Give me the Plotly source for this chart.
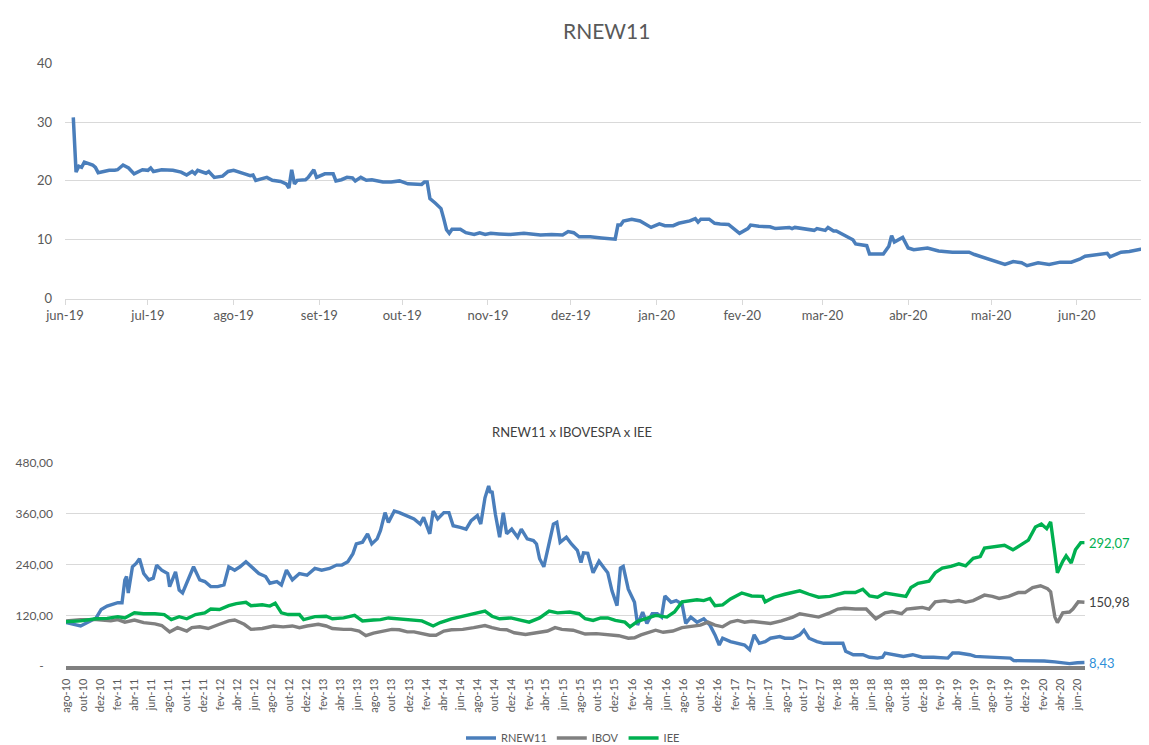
import plotly.graph_objects as go

# ---------------- Top chart: RNEW11 price ----------------
top_dates = [
    "2019-06-04", "2019-06-05", "2019-06-06", "2019-06-07", "2019-06-08", "2019-06-11", "2019-06-12",
    "2019-06-13", "2019-06-15", "2019-06-17", "2019-06-19", "2019-06-20", "2019-06-22", "2019-06-24",
    "2019-06-26", "2019-06-29", "2019-07-01", "2019-07-02", "2019-07-03", "2019-07-06", "2019-07-10",
    "2019-07-13", "2019-07-15", "2019-07-17", "2019-07-18", "2019-07-19", "2019-07-22", "2019-07-23",
    "2019-07-25", "2019-07-28", "2019-07-30", "2019-08-01", "2019-08-05", "2019-08-07", "2019-08-08",
    "2019-08-09", "2019-08-13", "2019-08-15", "2019-08-18", "2019-08-20", "2019-08-21", "2019-08-22",
    "2019-08-23", "2019-08-24", "2019-08-27", "2019-08-28", "2019-08-30", "2019-08-31", "2019-09-03",
    "2019-09-06", "2019-09-07", "2019-09-09", "2019-09-11", "2019-09-13", "2019-09-14", "2019-09-16",
    "2019-09-18", "2019-09-20", "2019-09-24", "2019-09-27", "2019-09-30", "2019-10-03", "2019-10-08",
    "2019-10-09", "2019-10-10", "2019-10-11", "2019-10-13", "2019-10-15", "2019-10-16", "2019-10-17",
    "2019-10-18", "2019-10-19", "2019-10-22", "2019-10-24", "2019-10-27", "2019-10-29", "2019-10-31",
    "2019-11-02", "2019-11-05", "2019-11-09", "2019-11-14", "2019-11-20", "2019-11-24", "2019-11-28",
    "2019-11-30", "2019-12-02", "2019-12-04", "2019-12-08", "2019-12-12", "2019-12-17", "2019-12-18",
    "2019-12-19", "2019-12-20", "2019-12-23", "2019-12-26", "2019-12-30", "2020-01-02", "2020-01-04",
    "2020-01-07", "2020-01-09", "2020-01-13", "2020-01-15", "2020-01-16", "2020-01-17", "2020-01-20",
    "2020-01-22", "2020-01-24", "2020-01-27", "2020-01-31", "2020-02-03", "2020-02-04", "2020-02-07",
    "2020-02-11", "2020-02-13", "2020-02-18", "2020-02-19", "2020-02-20", "2020-02-27", "2020-02-28",
    "2020-03-02", "2020-03-03", "2020-03-05", "2020-03-06", "2020-03-10", "2020-03-12", "2020-03-13",
    "2020-03-17", "2020-03-18", "2020-03-23", "2020-03-25", "2020-03-26", "2020-03-27", "2020-03-30",
    "2020-04-01", "2020-04-03", "2020-04-08", "2020-04-12", "2020-04-17", "2020-04-23", "2020-04-25",
    "2020-04-28", "2020-05-01", "2020-05-06", "2020-05-09", "2020-05-12", "2020-05-14", "2020-05-18",
    "2020-05-22", "2020-05-26", "2020-05-30", "2020-06-02", "2020-06-04", "2020-06-08", "2020-06-12",
    "2020-06-13", "2020-06-17", "2020-06-20", "2020-06-24", "2020-06-26", "2020-06-27", "2020-06-29",
]
top_price = [
    30.8, 21.5, 22.5, 22.3, 23.2, 22.7, 22.3,
    21.4, 21.6, 21.8, 21.8, 21.9, 22.7, 22.2,
    21.2, 21.9, 21.8, 22.2, 21.6, 21.9, 21.8,
    21.5, 21.0, 21.6, 21.2, 21.8, 21.3, 21.6,
    20.6, 20.8, 21.6, 21.8, 21.2, 20.9, 21.0,
    20.1, 20.6, 20.1, 19.9, 19.5, 18.8, 21.9,
    19.5, 20.1, 20.2, 20.6, 21.9, 20.6, 21.2,
    21.2, 20.0, 20.2, 20.6, 20.5, 20.0, 20.6,
    20.1, 20.2, 19.8, 19.8, 20.0, 19.5, 19.4,
    19.8, 19.8, 17.0, 16.2, 15.3, 13.6, 11.7,
    11.1, 11.8, 11.8, 11.2, 10.9, 11.2, 10.9,
    11.1, 11.0, 10.9, 11.1, 10.8, 10.9, 10.8,
    11.4, 11.2, 10.5, 10.5, 10.3, 10.1, 12.5,
    12.5, 13.2, 13.5, 13.2, 12.1, 12.7, 12.4,
    12.4, 12.8, 13.2, 13.6, 13.0, 13.5, 13.5,
    12.8, 12.7, 12.6, 11.1, 11.9, 12.5, 12.3,
    12.2, 11.9, 12.1, 11.9, 12.1, 11.6, 11.9,
    11.6, 12.1, 11.5, 11.5, 10.4, 10.0, 9.3,
    9.0, 7.6, 7.6, 8.9, 10.7, 9.6, 10.4,
    8.6, 8.3, 8.6, 8.1, 7.9, 7.9, 7.5,
    7.0, 6.5, 5.8, 6.3, 6.1, 5.6, 6.1,
    5.8, 6.2, 6.2, 6.7, 7.2, 7.5, 7.7,
    7.1, 7.9, 8.0, 8.4, 8.3, 10.4, 9.8,
]
top_tick_dates = ["2019-06-01", "2019-07-01", "2019-08-01", "2019-09-01", "2019-10-01", "2019-11-01",
                  "2019-12-01", "2020-01-01", "2020-02-01", "2020-03-01", "2020-04-01", "2020-05-01",
                  "2020-06-01"]
top_tick_labels = ["jun-19", "jul-19", "ago-19", "set-19", "out-19", "nov-19", "dez-19",
                   "jan-20", "fev-20", "mar-20", "abr-20", "mai-20", "jun-20"]

# ---------------- Bottom chart: RNEW11 x IBOVESPA x IEE ----------------
rnew_dates = [
    "2010-08-01", "2010-09-22", "2010-11-16", "2010-12-04", "2010-12-25", "2011-02-01", "2011-02-16",
    "2011-02-26", "2011-03-04", "2011-03-10", "2011-03-25", "2011-04-07", "2011-04-19", "2011-05-04",
    "2011-05-22", "2011-06-07", "2011-06-19", "2011-07-07", "2011-07-28", "2011-08-04", "2011-08-25",
    "2011-09-07", "2011-09-19", "2011-10-10", "2011-10-28", "2011-11-19", "2011-12-07", "2011-12-28",
    "2012-01-22", "2012-02-13", "2012-03-01", "2012-03-22", "2012-04-10", "2012-05-01", "2012-05-19",
    "2012-06-16", "2012-07-10", "2012-07-25", "2012-08-19", "2012-09-04", "2012-09-22", "2012-10-13",
    "2012-11-07", "2012-12-04", "2013-01-01", "2013-01-25", "2013-02-22", "2013-03-19", "2013-04-07",
    "2013-04-28", "2013-05-16", "2013-05-28", "2013-06-19", "2013-07-07", "2013-07-22", "2013-08-10",
    "2013-08-22", "2013-09-07", "2013-09-19", "2013-10-10", "2013-10-28", "2013-11-25", "2013-12-19",
    "2014-01-10", "2014-01-22", "2014-02-13", "2014-02-25", "2014-03-13", "2014-04-04", "2014-04-22",
    "2014-05-07", "2014-06-01", "2014-06-22", "2014-07-10", "2014-08-01", "2014-08-13", "2014-08-28",
    "2014-09-10", "2014-09-16", "2014-09-22", "2014-10-04", "2014-10-19", "2014-11-01", "2014-11-13",
    "2014-12-01", "2014-12-22", "2015-01-04", "2015-01-25", "2015-02-16", "2015-02-27", "2015-03-10",
    "2015-03-25", "2015-04-13", "2015-04-28", "2015-05-10", "2015-05-22", "2015-06-13", "2015-07-01",
    "2015-07-22", "2015-08-04", "2015-08-13", "2015-08-28", "2015-09-16", "2015-10-07", "2015-10-25",
    "2015-11-07", "2015-11-22", "2015-12-10", "2015-12-22", "2016-01-01", "2016-01-19", "2016-02-10",
    "2016-02-21", "2016-03-10", "2016-03-25", "2016-04-13", "2016-05-01", "2016-05-16", "2016-05-28",
    "2016-06-19", "2016-07-07", "2016-07-28", "2016-08-10", "2016-08-28", "2016-09-19", "2016-10-13",
    "2016-11-04", "2016-11-22", "2016-12-07", "2016-12-19", "2017-01-16", "2017-02-10", "2017-03-07",
    "2017-03-25", "2017-04-10", "2017-04-28", "2017-05-19", "2017-06-07", "2017-07-10", "2017-07-28",
    "2017-08-25", "2017-09-19", "2017-10-04", "2017-10-22", "2017-11-19", "2017-12-13", "2018-01-16",
    "2018-02-19", "2018-03-01", "2018-03-28", "2018-05-01", "2018-05-25", "2018-06-22", "2018-07-10",
    "2018-07-19", "2018-08-28", "2018-09-22", "2018-10-25", "2018-11-28", "2019-01-07", "2019-02-27",
    "2019-03-16", "2019-04-07", "2019-05-16", "2019-06-04", "2019-07-07", "2019-08-28", "2019-10-07",
    "2019-10-19", "2019-12-13", "2020-02-04", "2020-03-13", "2020-05-04", "2020-06-01", "2020-06-26",
]
rnew_values = [
    103, 95, 114, 134, 142, 150, 150,
    204, 212, 173, 235, 243, 254, 219,
    204, 208, 239, 227, 219, 188, 223,
    180, 173, 208, 235, 204, 200, 188,
    188, 192, 235, 227, 235, 247, 235,
    219, 212, 196, 200, 192, 227, 204,
    219, 215, 231, 227, 231, 239, 239,
    247, 266, 289, 293, 313, 289, 301,
    321, 363, 340, 367, 363, 356, 348,
    336, 352, 313, 367, 348, 363, 363,
    332, 328, 324, 344, 356, 336, 398,
    426, 410, 414, 359, 305, 363, 313,
    324, 305, 324, 301, 297, 289, 254,
    235, 289, 336, 340, 293, 305, 289,
    274, 245, 268, 267, 221, 248, 232,
    221, 178, 143, 232, 236, 182, 151,
    97, 128, 101, 124, 124, 116, 166,
    151, 155, 147, 101, 116, 104, 112,
    97, 74, 50, 66, 58, 54, 50,
    39, 74, 54, 58, 66, 70, 66,
    66, 74, 85, 66, 58, 54, 54,
    54, 35, 27, 27, 21, 19, 21,
    31, 27, 23, 27, 21, 21, 19,
    31, 31, 27, 23, 22, 21, 19,
    13, 13, 12, 10, 6, 8, 8.43,
]

ibov_dates = [
    "2010-08-01", "2010-09-22", "2010-11-16", "2011-01-07", "2011-02-01", "2011-02-26", "2011-04-01",
    "2011-05-04", "2011-06-13", "2011-07-07", "2011-08-04", "2011-09-01", "2011-10-04", "2011-10-22",
    "2011-11-19", "2011-12-19", "2012-01-28", "2012-03-01", "2012-03-22", "2012-04-25", "2012-05-19",
    "2012-06-28", "2012-08-07", "2012-09-10", "2012-10-13", "2012-11-07", "2012-12-04", "2013-01-13",
    "2013-02-10", "2013-03-04", "2013-04-13", "2013-05-10", "2013-06-07", "2013-07-01", "2013-07-28",
    "2013-08-22", "2013-10-01", "2013-10-28", "2013-11-25", "2013-12-19", "2014-01-16", "2014-02-13",
    "2014-03-07", "2014-04-04", "2014-05-01", "2014-06-10", "2014-07-19", "2014-08-28", "2014-09-22",
    "2014-10-19", "2014-11-13", "2014-12-10", "2015-01-19", "2015-02-27", "2015-04-07", "2015-05-04",
    "2015-05-28", "2015-07-07", "2015-08-19", "2015-09-28", "2015-11-07", "2015-12-16", "2016-01-19",
    "2016-02-10", "2016-03-04", "2016-04-01", "2016-04-25", "2016-05-22", "2016-06-25", "2016-07-28",
    "2016-08-22", "2016-10-01", "2016-10-28", "2016-11-22", "2016-12-19", "2017-01-16", "2017-02-10",
    "2017-03-07", "2017-04-01", "2017-05-10", "2017-06-07", "2017-07-16", "2017-08-25", "2017-09-19",
    "2017-10-16", "2017-11-25", "2018-01-04", "2018-02-01", "2018-02-25", "2018-04-04", "2018-05-13",
    "2018-06-16", "2018-07-19", "2018-08-13", "2018-09-16", "2018-10-04", "2018-11-01", "2018-11-28",
    "2018-12-22", "2019-01-13", "2019-02-16", "2019-03-10", "2019-04-07", "2019-05-01", "2019-05-28",
    "2019-07-07", "2019-08-04", "2019-08-28", "2019-10-01", "2019-11-04", "2019-11-28", "2019-12-25",
    "2020-01-22", "2020-02-16", "2020-02-27", "2020-03-13", "2020-03-22", "2020-04-10", "2020-05-04",
    "2020-05-16", "2020-06-04", "2020-06-26",
]
ibov_values = [
    107, 110, 110, 107, 110, 104, 109,
    103, 100, 96, 81, 91, 83, 91,
    93, 89, 99, 107, 109, 99, 87,
    89, 95, 93, 95, 91, 95, 99,
    95, 89, 87, 87, 83, 72, 78,
    81, 87, 86, 81, 81, 78, 73,
    73, 83, 86, 87, 91, 96, 91,
    87, 86, 79, 75, 79, 83, 91,
    87, 85, 76, 77, 75, 72, 66,
    67, 74, 80, 85, 80, 83, 91,
    93, 97, 104, 97, 93, 104, 108,
    104, 106, 104, 101, 107, 116, 124,
    120, 116, 126, 135, 137, 135, 135,
    112, 126, 129, 124, 135, 137, 139,
    135, 152, 155, 152, 155, 151, 155,
    168, 165, 160, 165, 174, 174, 186,
    190, 183, 176, 116, 103, 126, 128,
    135, 152, 150.98,
]

iee_dates = [
    "2010-08-01", "2010-09-22", "2010-11-16", "2010-12-25", "2011-02-01", "2011-02-26", "2011-04-01",
    "2011-05-04", "2011-06-13", "2011-07-16", "2011-08-10", "2011-09-07", "2011-10-04", "2011-11-04",
    "2011-12-07", "2011-12-28", "2012-01-28", "2012-03-01", "2012-03-28", "2012-05-01", "2012-05-19",
    "2012-06-28", "2012-07-25", "2012-08-13", "2012-09-04", "2012-09-28", "2012-11-07", "2012-11-22",
    "2013-01-01", "2013-02-10", "2013-03-04", "2013-04-13", "2013-05-22", "2013-06-19", "2013-07-28",
    "2013-08-22", "2013-09-19", "2013-10-28", "2013-12-07", "2014-01-16", "2014-02-25", "2014-03-22",
    "2014-05-01", "2014-06-10", "2014-07-19", "2014-08-28", "2014-09-22", "2014-10-19", "2014-11-28",
    "2014-12-22", "2015-02-01", "2015-03-10", "2015-04-13", "2015-05-13", "2015-06-25", "2015-07-28",
    "2015-08-19", "2015-09-16", "2015-10-13", "2015-11-07", "2015-12-04", "2016-01-07", "2016-01-25",
    "2016-02-21", "2016-03-25", "2016-04-25", "2016-06-04", "2016-07-01", "2016-07-28", "2016-08-22",
    "2016-09-19", "2016-10-13", "2016-11-04", "2016-11-22", "2016-12-19", "2017-01-16", "2017-02-25",
    "2017-04-01", "2017-05-10", "2017-05-19", "2017-06-19", "2017-07-28", "2017-09-19", "2017-10-22",
    "2017-11-25", "2018-01-04", "2018-02-25", "2018-04-04", "2018-05-01", "2018-05-25", "2018-06-22",
    "2018-07-19", "2018-08-28", "2018-10-01", "2018-10-19", "2018-11-13", "2018-12-22", "2019-01-13",
    "2019-02-07", "2019-03-10", "2019-04-07", "2019-05-01", "2019-05-28", "2019-06-22", "2019-07-07",
    "2019-08-13", "2019-09-16", "2019-10-16", "2019-11-13", "2019-12-10", "2020-01-04", "2020-01-25",
    "2020-02-13", "2020-02-27", "2020-03-13", "2020-03-22", "2020-04-10", "2020-04-22", "2020-05-10",
    "2020-05-25", "2020-06-13", "2020-06-26",
]
iee_values = [
    105, 107, 112, 113, 117, 114, 126,
    124, 124, 122, 110, 117, 112, 122,
    126, 135, 134, 143, 148, 151, 143,
    145, 142, 149, 126, 122, 122, 110,
    117, 118, 112, 114, 120, 107, 109,
    110, 114, 112, 110, 107, 95, 103,
    112, 118, 122, 130, 118, 112, 114,
    110, 104, 114, 130, 126, 128, 124,
    112, 108, 114, 114, 108, 104, 93,
    106, 114, 120, 116, 128, 152, 155,
    157, 155, 160, 143, 145, 159, 173,
    166, 165, 152, 163, 170, 178, 170,
    163, 165, 174, 174, 182, 166, 163,
    173, 168, 165, 186, 196, 201, 221,
    232, 236, 242, 237, 255, 259, 279,
    283, 286, 275, 286, 298, 329, 336,
    325, 341, 267, 221, 248, 261, 244,
    275, 292, 292.07,
]

bottom_tick_dates = []
bottom_tick_labels = []
pt_months = ["jan", "fev", "mar", "abr", "mai", "jun", "jul", "ago", "set", "out", "nov", "dez"]
for yr in range(2010, 2021):
    for mo in range(2, 13, 2):
        if (yr == 2010 and mo < 8) or (yr == 2020 and mo > 6):
            continue
        bottom_tick_dates.append(f"{yr}-{mo:02d}-01")
        bottom_tick_labels.append(f"{pt_months[mo-1]}-{str(yr)[2:]}")

y2_tick_vals = [0, 120, 240, 360, 480]
y2_tick_text = ["-\u00a0\u00a0\u00a0", "120,00", "240,00", "360,00", "480,00"]

series_names = ["RNEW11", "IBOV", "IEE"]
end_labels = ["8,43", "150,98", "292,07"]

# ---------------- Styling ----------------
W, H = 1149, 745
FONT = "Lato, 'Open Sans', sans-serif"
TXT = "#595959"
GRID = "#d9d9d9"
BLUE = "#4a7ebb"
GRAY = "#808080"
GREEN = "#00b050"

fig = go.Figure()

fig.add_trace(go.Scatter(x=top_dates, y=top_price, mode="lines", xaxis="x", yaxis="y",
                         line=dict(color=BLUE, width=3.5), showlegend=False, name="RNEW11"))

colors = [BLUE, GRAY, GREEN]
for name, xs, ys, c in zip(series_names, [rnew_dates, ibov_dates, iee_dates],
                           [rnew_values, ibov_values, iee_values], colors):
    fig.add_trace(go.Scatter(x=xs, y=ys, mode="lines", xaxis="x2", yaxis="y2", name=name,
                             line=dict(color=c, width=3.4)))

label_colors = ["#2f8fd8", "#404040", GREEN]
for xs, ys, lab, lc in zip([rnew_dates, ibov_dates, iee_dates], [rnew_values, ibov_values, iee_values],
                           end_labels, label_colors):
    fig.add_annotation(x=xs[-1], y=ys[-1], xref="x2", yref="y2", text=lab, showarrow=False,
                       xanchor="left", yanchor="middle", xshift=3,
                       font=dict(family=FONT, size=13, color=lc))

fig.add_annotation(x=598 / W, y=1 - 23 / H, xref="paper", yref="paper", text="RNEW11",
                   showarrow=False, xanchor="center", yanchor="middle",
                   font=dict(family=FONT, size=21, color=TXT))
fig.add_annotation(x=564 / W, y=1 - 430 / H, xref="paper", yref="paper", text="RNEW11 x IBOVESPA x IEE",
                   showarrow=False, xanchor="center", yanchor="middle",
                   font=dict(family=FONT, size=13, color="#404040"))

fig.update_layout(
    width=W, height=H, template="none",
    margin=dict(l=0, r=0, t=0, b=0, pad=0),
    paper_bgcolor="white", plot_bgcolor="white",
    font=dict(family=FONT, color=TXT),
    xaxis=dict(domain=[57 / W, 1.0], anchor="y", type="date", range=["2019-06-01", "2020-06-30"],
               tickvals=top_tick_dates, ticktext=top_tick_labels, ticks="outside", ticklen=5,
               tickcolor=GRID, showline=True, linecolor=GRID, linewidth=1, showgrid=False,
               zeroline=False, automargin=False, tickfont=dict(family=FONT, size=13, color=TXT)),
    yaxis=dict(domain=[1 - 295 / H, 1 - 56 / H], anchor="x", range=[0, 40], tickvals=[0, 10, 20, 30, 40],
               showgrid=True, gridcolor=GRID, gridwidth=1, zeroline=False, showline=False, ticks="",
               ticklabelstandoff=12, automargin=False, tickfont=dict(family=FONT, size=13, color=TXT)),
    xaxis2=dict(domain=[58 / W, 1077 / W], anchor="y2", type="date", range=["2010-08-01", "2020-06-28"],
                tickvals=bottom_tick_dates, ticktext=bottom_tick_labels, tickangle=-90, ticks="",
                showline=True, linecolor=GRAY, linewidth=4, showgrid=False, zeroline=False,
                automargin=False, ticklabelstandoff=4, tickfont=dict(family=FONT, size=11, color=TXT)),
    yaxis2=dict(domain=[1 - 668 / H, 1 - 462 / H], anchor="x2", range=[0, 480], tickvals=y2_tick_vals,
                ticktext=y2_tick_text, showgrid=True, gridcolor=GRID, gridwidth=1, zeroline=False,
                showline=False, ticks="", ticklabelstandoff=12, automargin=False,
                tickfont=dict(family=FONT, size=12, color=TXT)),
    legend=dict(orientation="h", x=565 / W, xanchor="center", y=1 - 741 / H, yanchor="middle",
                font=dict(family=FONT, size=11, color=TXT), itemwidth=30, bgcolor="rgba(0,0,0,0)",
                tracegroupgap=0),
)

fig.write_html("out.html")
